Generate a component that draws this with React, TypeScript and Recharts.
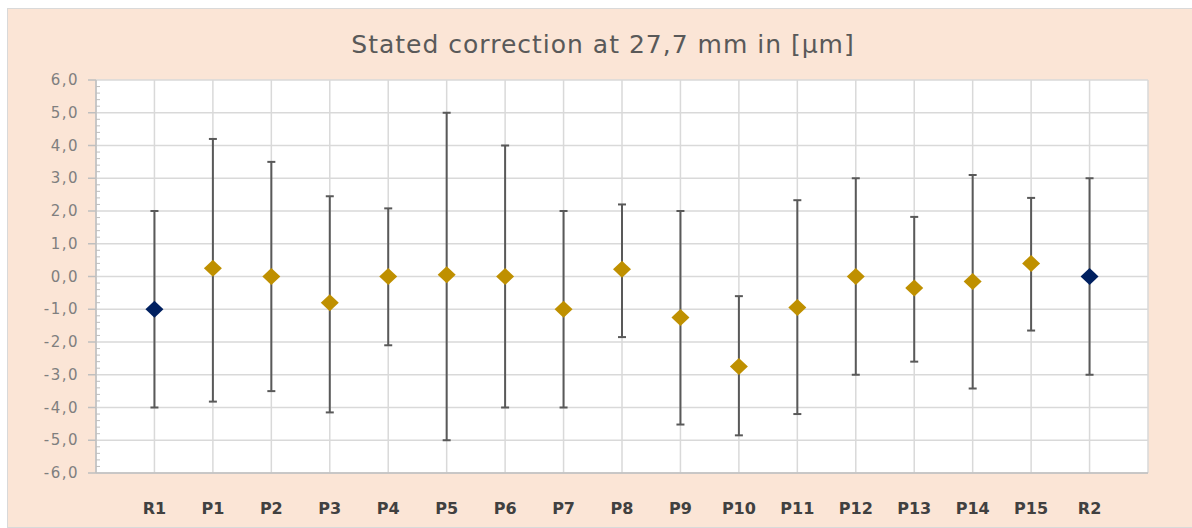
import React from 'react'
import { ScatterChart, Scatter, XAxis, YAxis, CartesianGrid, ErrorBar } from 'recharts'

// positions / labels along the x axis
const names = ['R1', 'P1', 'P2', 'P3', 'P4', 'P5', 'P6', 'P7', 'P8', 'P9', 'P10', 'P11', 'P12', 'P13', 'P14', 'P15', 'R2']

// stated correction (µm) and the ends of the uncertainty bars
const values = [-1.0, 0.25, 0.0, -0.8, 0.0, 0.05, 0.0, -1.0, 0.22, -1.25, -2.75, -0.95, 0.0, -0.35, -0.15, 0.4, 0.0]
const highs = [2.0, 4.2, 3.5, 2.45, 2.08, 5.0, 4.0, 2.0, 2.2, 2.0, -0.6, 2.33, 3.0, 1.82, 3.1, 2.4, 3.0]
const lows = [-4.0, -3.82, -3.5, -4.15, -2.1, -5.0, -4.0, -4.0, -1.85, -4.52, -4.85, -4.2, -3.0, -2.6, -3.42, -1.65, -3.0]

const yTicks = [-6, -5, -4, -3, -2, -1, 0, 1, 2, 3, 4, 5, 6]
const xTicks = [0, 1, 2, 3, 4, 5, 6, 7, 8, 9, 10, 11, 12, 13, 14, 15, 16, 17, 18]
// major + minor (every 0.2) tick positions on the value axis
const allYTicks = Array.from({ length: 61 }, (_, i) => Math.round((-6 + i * 0.2) * 10) / 10)

const GOLD = '#BF9000'
const NAVY = '#002060'

const rows = names.map((name, i) => ({
  x: i + 1,
  y: values[i],
  err: [values[i] - lows[i], highs[i] - values[i]],
  name,
}))
const refRows = rows.filter(r => r.name.startsWith('R'))
const prodRows = rows.filter(r => r.name.startsWith('P'))

const diamond = (color: string) => (props: any) => {
  const { cx, cy } = props
  if (cx == null || cy == null) return null
  return (
    <polygon
      points={`${cx},${cy - 8.5} ${cx + 9},${cy} ${cx},${cy + 8.5} ${cx - 9},${cy}`}
      fill={color}
    />
  )
}

const XTick = (props: any) => {
  const { x, y, payload } = props
  const label = names[payload.value - 1]
  if (!label) return null
  return (
    <text x={x} y={y + 41} textAnchor="middle" fontFamily="DejaVu Sans" fontWeight="bold" fontSize={16} fill="#404040">
      {label}
    </text>
  )
}

// x here is the axis line itself (tickSize and tickMargin are 0)
const YTick = (props: any) => {
  const { x, y, payload } = props
  const v = payload.value
  if (Number.isInteger(v)) {
    return (
      <g>
        <line x1={x - 8} x2={x} y1={y} y2={y} stroke="#BFBFBF" strokeWidth={1.5} />
        <text x={x - 17} y={y} dy={5} textAnchor="end" fontFamily="DejaVu Sans" fontSize={15} fill="#7F7F7F" letterSpacing={1.5}>
          {v.toFixed(1).replace('.', ',')}
        </text>
      </g>
    )
  }
  return <line x1={x} x2={x + 4} y1={y} y2={y} stroke="#BFBFBF" strokeWidth={1} />
}

export default function App() {
  return (
    <div
      style={{
        position: 'fixed',
        left: 7,
        top: 8,
        width: 1185,
        height: 518,
        background: '#FBE5D6',
        borderTop: '1px solid #D9D9D9',
        borderLeft: '1px solid #D9D9D9',
        borderBottom: '1px solid #D9D9D9',
      }}
    >
      <div
        style={{
          position: 'absolute',
          top: 21,
          left: 0,
          width: 1190,
          lineHeight: '30px',
          textAlign: 'center',
          fontFamily: 'DejaVu Sans',
          fontSize: 25,
          letterSpacing: 1,
          color: '#595959',
        }}
      >
        Stated correction at 27,7 mm in [µm]
      </div>
      <ScatterChart width={1184} height={518} margin={{ top: 71, right: 44, bottom: 4, left: 0 }}>
        <CartesianGrid
          fill="#FFFFFF"
          stroke="#D9D9D9"
          strokeWidth={1.5}
          horizontalValues={yTicks}
          verticalValues={xTicks}
        />
        <XAxis
          type="number"
          dataKey="x"
          domain={[0, 18]}
          ticks={xTicks}
          interval={0}
          height={50}
          axisLine={{ stroke: '#BFBFBF', strokeWidth: 1.5 }}
          tickLine={false}
          tickSize={0}
          tickMargin={0}
          tick={<XTick />}
        />
        <YAxis
          type="number"
          dataKey="y"
          domain={[-6, 6]}
          ticks={allYTicks}
          interval={0}
          width={88}
          axisLine={{ stroke: '#BFBFBF', strokeWidth: 1.5 }}
          tickLine={false}
          tickSize={0}
          tickMargin={0}
          tick={<YTick />}
        />
        <Scatter data={prodRows} shape={diamond(GOLD)} isAnimationActive={false}>
          <ErrorBar dataKey="err" direction="y" width={4} stroke="#595959" strokeWidth={2} />
        </Scatter>
        <Scatter data={refRows} shape={diamond(NAVY)} isAnimationActive={false}>
          <ErrorBar dataKey="err" direction="y" width={4} stroke="#595959" strokeWidth={2} />
        </Scatter>
      </ScatterChart>
    </div>
  )
}
